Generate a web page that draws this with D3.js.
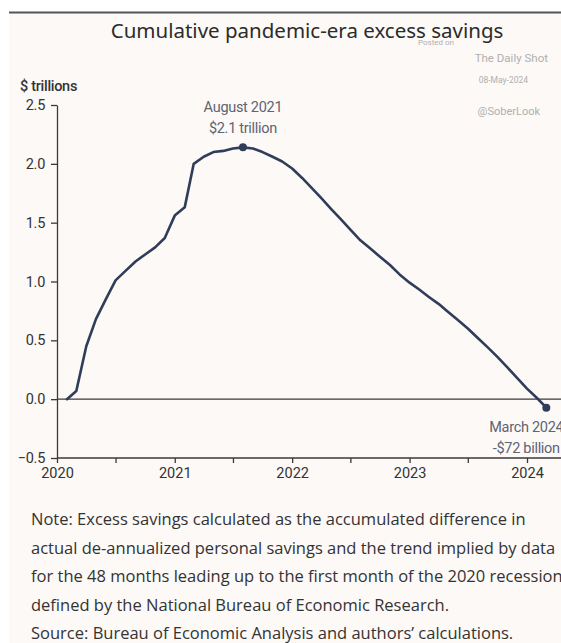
<!DOCTYPE html>
<html><head><meta charset="utf-8">
<script src="https://cdn.jsdelivr.net/npm/d3@7"></script>
<style>
html,body{margin:0;padding:0;background:#fff;}
svg{display:block;}
</style></head>
<body>
<svg id="chart" width="561" height="643"></svg>
<script>
// Data: month labels (YYYY-MM) and cumulative excess savings ($ trillions)
const months = [
 "2020-02","2020-03","2020-04","2020-05","2020-06","2020-07","2020-08","2020-09","2020-10","2020-11","2020-12",
 "2021-01","2021-02","2021-03","2021-04","2021-05","2021-06","2021-07","2021-08","2021-09","2021-10","2021-11","2021-12",
 "2022-01","2022-02","2022-03","2022-04","2022-05","2022-06","2022-07","2022-08","2022-09","2022-10","2022-11","2022-12",
 "2023-01","2023-02","2023-03","2023-04","2023-05","2023-06","2023-07","2023-08","2023-09","2023-10","2023-11","2023-12",
 "2024-01","2024-02","2024-03"];
const savings = [
 0.00,0.07,0.45,0.68,0.85,1.01,1.09,1.17,1.23,1.29,1.37,
 1.56,1.63,2.00,2.06,2.10,2.11,2.13,2.14,2.13,2.10,2.06,2.02,
 1.96,1.88,1.80,1.71,1.62,1.53,1.44,1.35,1.28,1.21,1.14,1.06,
 0.99,0.93,0.87,0.81,0.74,0.67,0.60,0.52,0.44,0.36,0.27,0.18,
 0.09,0.01,-0.072];
const yTicks = [-0.5, 0.0, 0.5, 1.0, 1.5, 2.0, 2.5];
const xYears = [2020, 2021, 2022, 2023, 2024];
const highlights = [
  {month:"2021-08", lines:["August 2021","$2.1 trillion"]},
  {month:"2024-03", lines:["March 2024","-$72 billion"]}
];
const title = "Cumulative pandemic-era excess savings";
const yUnit = "$ trillions";
const watermark = ["Posted on","The Daily Shot","08-May-2024","@SoberLook"];
const noteLines = [
 "Note: Excess savings calculated as the accumulated difference in",
 "actual de-annualized personal savings and the trend implied by data",
 "for the 48 months leading up to the first month of the 2020 recession as",
 "defined by the National Bureau of Economic Research.",
 "Source: Bureau of Economic Analysis and authors\u2019 calculations."
];

const parse = d3.timeParse("%Y-%m");
const data = months.map((m,i)=>({date:parse(m), v:savings[i]}));

const svg = d3.select("#chart");
// background panel
svg.append("rect").attr("x",9).attr("y",12).attr("width",552).attr("height",631).attr("fill","#fcf9f7");
svg.append("line").attr("x1",9).attr("x2",561).attr("y1",12.5).attr("y2",12.5).attr("stroke","#555").attr("stroke-width",2);

const x = d3.scaleTime().domain([new Date(2020,0,1), new Date(2024,0,1)]).range([57,527]);
const y = d3.scaleLinear().domain([-0.5,2.5]).range([458,105]);

const axisColor = "#3a3a3a";
const font = "Roboto, 'Liberation Sans', sans-serif";

// title
svg.append("text").attr("x",307).attr("y",38).attr("text-anchor","middle")
  .attr("font-family","'Noto Sans', sans-serif").attr("font-size",20.5).attr("fill","#2b2b2b").text(title);

// watermark
const wm = svg.append("g").attr("font-family",font).attr("fill","#b0b0b0");
wm.append("text").attr("x",418).attr("y",45).attr("font-size",8).text(watermark[0]);
wm.append("text").attr("x",548).attr("y",62).attr("text-anchor","end").attr("font-size",11.5).text(watermark[1]);
wm.append("text").attr("x",528).attr("y",83).attr("text-anchor","end").attr("font-size",8.5).text(watermark[2]);
wm.append("text").attr("x",540).attr("y",115).attr("text-anchor","end").attr("font-size",11).text(watermark[3]);

// y unit
svg.append("text").attr("x",20).attr("y",91).attr("font-family",font).attr("font-size",14.5)
  .attr("font-weight",500).attr("fill","#333").attr("letter-spacing","-0.3").text(yUnit);

// y axis
const yAxis = svg.append("g").attr("transform","translate(57,0)")
  .call(d3.axisLeft(y).tickValues(yTicks).tickFormat(d3.format(".1f")).tickSize(6).tickPadding(6).tickSizeOuter(0));
yAxis.select(".domain").attr("stroke",axisColor).attr("stroke-width",1.3);
yAxis.selectAll(".tick line").attr("stroke",axisColor).attr("stroke-width",1.3);
yAxis.selectAll(".tick text").attr("font-family",font).attr("font-size",14.5).attr("fill","#333")
  .attr("letter-spacing","-0.3");

// x axis (at -0.5)
const xTickDates = [];
xYears.forEach(yr=>{ xTickDates.push(new Date(yr,0,1)); if (yr<2024) xTickDates.push(new Date(yr,6,1)); });
xTickDates.push(new Date(2024,6,1));
const xAxis = svg.append("g").attr("transform",`translate(0,${y(-0.5)})`)
  .call(d3.axisBottom(x).tickValues(xTickDates).tickSize(5).tickSizeOuter(0)
    .tickFormat(d=> d.getMonth()===0 ? d3.timeFormat("%Y")(d) : ""));
xAxis.select(".domain").remove();
xAxis.selectAll(".tick line").attr("stroke",axisColor).attr("stroke-width",1.3);
xAxis.selectAll(".tick text").attr("font-family",font).attr("font-size",14.5).attr("fill","#333").attr("dy","0.85em");
svg.append("line").attr("x1",57).attr("x2",561).attr("y1",y(-0.5)).attr("y2",y(-0.5))
  .attr("stroke",axisColor).attr("stroke-width",1.3);
// zero line
svg.append("line").attr("x1",57).attr("x2",561).attr("y1",y(0)).attr("y2",y(0))
  .attr("stroke",axisColor).attr("stroke-width",1.3);

// line
const lineColor = "#2f3d58";
svg.append("path").datum(data)
  .attr("d", d3.line().x(d=>x(d.date)).y(d=>y(d.v)))
  .attr("fill","none").attr("stroke",lineColor).attr("stroke-width",2.6)
  .attr("stroke-linejoin","round").attr("stroke-linecap","round");

// highlights
const labelColor = "#5d6473";
highlights.forEach((h,i)=>{
  const d = data.find(p=>d3.timeFormat("%Y-%m")(p.date)===h.month);
  svg.append("circle").attr("cx",x(d.date)).attr("cy",y(d.v)).attr("r",4).attr("fill",lineColor);
  const g = svg.append("g").attr("font-family",font).attr("font-size",14.5).attr("fill",labelColor)
    .attr("text-anchor","middle").attr("letter-spacing","-0.3");
  if (i===0){
    g.append("text").attr("x",x(d.date)).attr("y",y(d.v)-35).text(h.lines[0]);
    g.append("text").attr("x",x(d.date)).attr("y",y(d.v)-14).text(h.lines[1]);
  } else {
    g.append("text").attr("x",x(d.date)-20).attr("y",y(d.v)+24).text(h.lines[0]);
    g.append("text").attr("x",x(d.date)-20).attr("y",y(d.v)+45).text(h.lines[1]);
  }
});

// note
const note = svg.append("g").attr("font-family","'Open Sans', 'Noto Sans', sans-serif").attr("font-size",16.5).attr("fill","#333");
noteLines.forEach((t,i)=>{
  note.append("text").attr("x",31).attr("y",525+i*28.5).text(t);
});
</script>
</body></html>
